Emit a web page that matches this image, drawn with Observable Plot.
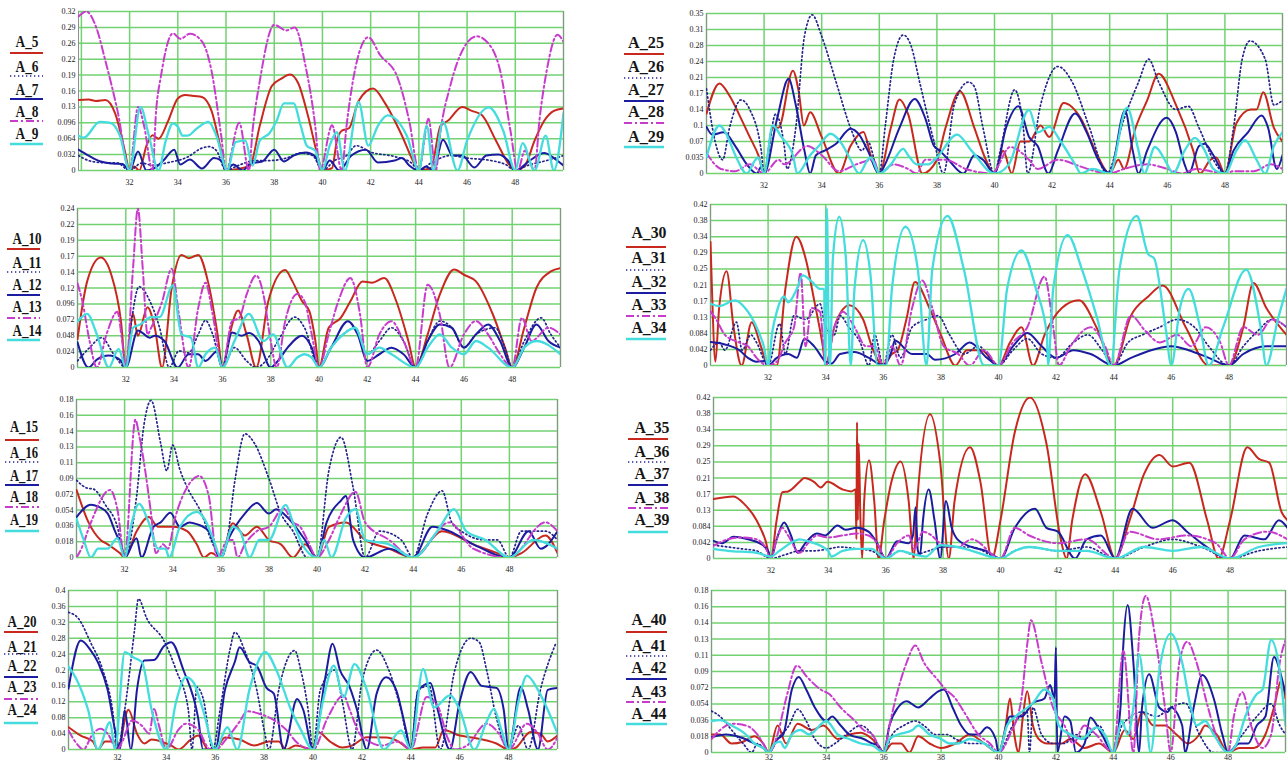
<!DOCTYPE html>
<html><head><meta charset="utf-8">
<script src="https://cdn.jsdelivr.net/npm/d3@7"></script>
<script src="https://cdn.jsdelivr.net/npm/@observablehq/plot@0.6"></script>
<style>
body{margin:0;background:#fff;}
#root{position:relative;width:1287px;height:765px;overflow:hidden;background:#fff;}
</style></head><body><div id="root"></div>
<script>
// ---------- tick labels ----------
const XT = [32,34,36,38,40,42,44,46,48];
const YL_1 = ["0","0.032","0.064","0.096","0.13","0.16","0.19","0.22","0.26","0.29","0.32"];
const YL_2 = ["0","0.024","0.048","0.072","0.096","0.12","0.14","0.17","0.19","0.22","0.24"];
const YL_3 = ["0","0.018","0.036","0.054","0.072","0.09","0.11","0.13","0.14","0.16","0.18"];
const YL_4 = ["0","0.04","0.08","0.12","0.16","0.2","0.24","0.28","0.32","0.36","0.4"];
const YL_5 = ["0","0.035","0.07","0.1","0.14","0.17","0.21","0.24","0.28","0.31","0.35"];
const YL_6 = ["0","0.042","0.084","0.13","0.17","0.21","0.25","0.29","0.34","0.38","0.42"];
const YL_7 = ["0","0.042","0.084","0.13","0.17","0.21","0.25","0.29","0.34","0.38","0.42"];
const YL_8 = ["0","0.018","0.036","0.054","0.072","0.09","0.11","0.13","0.14","0.16","0.18"];

// ---------- series values [x, y] ----------
const A_5 = [[29.88,0.142],[30.3,0.143],[30.6,0.14],[31.0,0.142],[31.4,0.115],[31.8,0.04],[32.0,0],[32.2,0.008],[32.4,0],[32.7,0.05],[32.95,0.071],[33.2,0.064],[33.6,0.1],[34.0,0.145],[34.3,0.152],[34.7,0.15],[35.0,0.148],[35.4,0.12],[35.8,0.04],[36.0,0],[36.5,0.003],[37.0,0.01],[37.4,0.09],[37.9,0.17],[38.3,0.185],[38.65,0.193],[39.0,0.175],[39.4,0.11],[39.8,0.03],[40.0,0],[40.4,0.005],[40.6,0.06],[40.8,0.08],[41.1,0.085],[41.5,0.14],[42.1,0.165],[42.6,0.135],[43.3,0.07],[43.8,0.015],[44.0,0],[44.5,0.005],[44.9,0.09],[45.2,0.1],[45.8,0.128],[46.2,0.12],[46.6,0.112],[47.2,0.06],[47.7,0.015],[48.0,0],[48.4,0.01],[48.8,0.06],[49.2,0.1],[49.6,0.12],[50,0.125]];
const A_6 = [[29.88,0.03],[30.3,0.02],[30.8,0.016],[31.5,0.015],[32,0],[32.5,0.015],[33.0,0.01],[33.5,0.015],[34.4,0.027],[35.0,0.045],[35.3,0.048],[35.6,0.04],[36,0],[36.5,0.01],[37.2,0.02],[37.8,0.02],[38.5,0.025],[39.1,0.035],[39.6,0.03],[40,0],[40.5,0.02],[41.0,0.03],[41.4,0.05],[42,0.037],[43,0.028],[43.7,0.015],[44,0],[44.5,0.015],[45.3,0.03],[46,0.025],[47,0.02],[47.6,0.012],[48,0],[48.5,0.01],[49.3,0.02],[50,0.03]];
const A_7 = [[29.88,0.042],[30.3,0.03],[30.8,0.018],[31.3,0.014],[31.7,0.013],[32,0],[32.35,0.038],[32.7,0],[33.0,0.004],[33.4,0.02],[33.85,0.042],[34.1,0.012],[34.5,0.022],[35.0,0.004],[35.5,0.025],[35.8,0.02],[36,0],[36.3,0.012],[36.7,0],[37.0,0.014],[37.5,0.018],[38.0,0.042],[38.4,0.018],[38.8,0.03],[39.3,0.036],[39.7,0.028],[40,0],[40.3,0.02],[40.7,0],[41.2,0.03],[41.8,0.042],[42.3,0.016],[43.0,0.02],[43.3,0.025],[43.6,0.01],[44,0],[44.3,0.008],[44.6,0],[45.0,0.062],[45.4,0.03],[45.8,0.03],[46.3,0.006],[46.8,0.03],[47.3,0.032],[47.7,0.02],[48,0],[48.6,0.02],[49.2,0.035],[49.6,0.025],[50,0.01]];
const A_8 = [[29.88,0.31],[30.2,0.32],[30.6,0.29],[31.0,0.22],[31.5,0.12],[32,0],[32.35,0.128],[32.6,0.09],[32.95,0],[33.1,0.12],[33.3,0.19],[33.8,0.276],[34.1,0.265],[34.5,0.275],[35.0,0.26],[35.4,0.2],[35.8,0.07],[36.0,0],[36.55,0.096],[36.95,0],[37.1,0.08],[37.4,0.18],[38.0,0.293],[38.5,0.282],[38.85,0.288],[39.3,0.21],[39.7,0.09],[39.9,0],[40.4,0.091],[40.8,0],[41.0,0.09],[41.3,0.19],[41.9,0.268],[42.4,0.232],[43.1,0.189],[43.6,0.1],[44,0],[44.4,0.104],[44.7,0],[44.9,0.08],[45.3,0.17],[45.9,0.25],[46.4,0.27],[46.8,0.26],[47.4,0.195],[47.8,0.08],[48.1,0],[48.4,0.04],[48.8,0],[49.0,0.1],[49.3,0.2],[49.75,0.273],[50,0.259]];
const A_9 = [[29.88,0.07],[30.1,0.066],[30.76,0.098],[31.2,0.096],[31.6,0.07],[32,0],[32.45,0.128],[32.8,0.07],[33.2,0],[33.5,0.06],[33.8,0.095],[34.0,0.088],[34.2,0.07],[34.4,0.07],[34.8,0.085],[35.27,0.098],[35.6,0.07],[36.05,0],[36.4,0.057],[36.8,0.06],[37.1,0.01],[37.4,0.06],[37.8,0.075],[38.1,0.1],[38.4,0.135],[38.8,0.135],[39.1,0.09],[39.35,0.05],[39.7,0.04],[40,0],[40.3,0.05],[40.6,0.077],[40.93,0],[41.5,0.138],[41.9,0.05],[42.3,0.09],[42.7,0.111],[43.5,0.07],[44,0],[44.33,0.09],[44.6,0],[45.0,0.098],[45.6,0],[46.0,0.06],[46.9,0.127],[47.5,0.08],[48,0],[48.3,0.055],[48.8,0],[49.26,0.07],[49.6,0],[50,0.115]];

const A_10 = [[30,0.043],[30.4,0.13],[30.96,0.166],[31.4,0.14],[31.8,0.07],[32,0],[32.3,0.081],[32.5,0.048],[32.9,0.091],[33.2,0.06],[33.5,0],[33.9,0.12],[34.3,0.17],[34.6,0.165],[35.0,0.17],[35.4,0.13],[35.8,0.05],[36,0],[36.3,0.05],[36.65,0.086],[37.0,0.05],[37.4,0],[37.9,0.1],[38.6,0.147],[38.9,0.13],[39.3,0.1],[39.6,0.085],[39.85,0.04],[40,0],[40.4,0.06],[40.9,0.075],[41.3,0.1],[41.8,0.13],[42.2,0.128],[42.7,0.135],[43.2,0.1],[43.7,0.04],[44,0],[44.5,0.05],[45.0,0.11],[45.6,0.148],[46.0,0.14],[46.5,0.13],[47.2,0.08],[47.7,0.03],[48,0],[48.5,0.06],[49.0,0.12],[49.6,0.145],[50,0.15]];
const A_11 = [[30,0.01],[30.5,0.03],[31.0,0.045],[31.5,0.02],[32,0],[32.2,0.06],[32.55,0.122],[33.0,0.1],[33.4,0.06],[33.8,0],[34.2,0.025],[34.6,0.022],[35.0,0.05],[35.3,0.071],[35.6,0.05],[36,0],[36.5,0.03],[37.0,0.01],[37.4,0],[37.8,0.01],[38.3,0.04],[39.0,0.076],[39.4,0.06],[40,0],[40.5,0.03],[41.0,0.05],[41.5,0.06],[42,0.02],[42.5,0.04],[43.0,0.06],[43.5,0.04],[44,0],[44.5,0.04],[45.0,0.07],[45.5,0.06],[46.0,0.03],[46.5,0.05],[47.3,0.06],[47.7,0.03],[48,0],[48.5,0.04],[49.2,0.075],[49.6,0.05],[50,0.03]];
const A_12 = [[30,0.038],[30.45,0],[30.8,0.012],[31.3,0.018],[31.8,0.01],[32,0],[32.5,0.056],[33.0,0.045],[33.2,0.048],[33.6,0.04],[34.15,0],[34.6,0.02],[35.0,0.02],[35.3,0.01],[35.8,0.025],[36,0],[36.4,0.053],[36.8,0.048],[37.1,0.052],[37.5,0.04],[38.0,0],[38.3,0.01],[38.7,0.03],[39.3,0.048],[39.7,0.03],[40,0],[40.5,0.03],[41.2,0.07],[41.6,0.05],[42,0.01],[42.5,0.02],[43.0,0.03],[43.5,0.02],[44,0],[44.5,0.04],[45.0,0.065],[45.5,0.06],[46.0,0.03],[46.5,0.05],[47.0,0.065],[47.5,0.04],[48,0],[48.5,0.03],[49.0,0.065],[49.5,0.04],[50,0.03]];
const A_13 = [[30,0.127],[30.2,0.1],[30.5,0.04],[30.8,0],[31.2,0.05],[31.65,0.084],[31.85,0.04],[32,0],[32.3,0.15],[32.5,0.24],[32.7,0.15],[32.9,0.05],[33.05,0.06],[33.5,0.099],[33.9,0.149],[34.2,0.08],[34.6,0],[35.0,0.09],[35.3,0.128],[35.6,0.08],[36,0],[36.4,0.07],[36.7,0.075],[37.0,0.11],[37.4,0.139],[37.7,0.11],[38.0,0.04],[38.25,0],[38.6,0.07],[39.1,0.111],[39.4,0.1],[39.7,0.05],[40,0],[40.4,0.05],[40.8,0.1],[41.3,0.135],[41.7,0.08],[42,0],[42.5,0.05],[43.0,0.07],[43.5,0.04],[44,0],[44.5,0.125],[45.0,0.08],[45.4,0],[46.0,0.05],[46.5,0.07],[47.0,0.05],[47.5,0.02],[48,0],[48.4,0.075],[48.8,0.04],[49.5,0.06],[50,0.05]];
const A_14 = [[30,0.069],[30.4,0.081],[30.8,0.05],[31.3,0],[31.7,0.028],[32,0],[32.3,0.06],[32.6,0.065],[33.05,0.076],[33.4,0.076],[33.95,0.124],[34.3,0.05],[34.7,0.045],[35.0,0],[35.3,0.02],[35.7,0.03],[36,0],[36.5,0.04],[37.1,0.081],[37.7,0.04],[38.1,0.05],[38.7,0],[39.1,0.015],[39.4,0.02],[39.7,0.015],[40,0],[40.5,0.03],[41.0,0.05],[41.5,0.06],[42,0.02],[42.5,0.03],[43,0.02],[44,0],[44.5,0.03],[45,0.05],[45.5,0.03],[46,0.02],[46.5,0.04],[47,0.03],[48,0],[48.5,0.03],[49,0.04],[50,0.02]];

const A_15 = [[30,0.077],[30.5,0.04],[31.0,0.02],[31.3,0.015],[31.8,0.005],[32,0],[32.5,0.03],[33.0,0.046],[33.4,0.035],[34.0,0.035],[34.6,0.03],[35.0,0.015],[35.3,0],[35.6,0.005],[36,0],[36.5,0.039],[37.0,0.025],[37.5,0.035],[38.0,0.02],[38.5,0.015],[39.0,0],[39.5,0.015],[40,0],[40.5,0.035],[41.2,0.04],[42,0.02],[43,0.01],[44,0],[45.2,0.03],[46.5,0.015],[47.5,0.005],[48,0],[48.5,0.005],[49.5,0.025],[50,0.005]];
const A_16 = [[30,0.088],[30.45,0.079],[30.7,0.078],[31.2,0.06],[31.7,0.035],[32,0],[32.5,0.07],[32.8,0.15],[33.1,0.179],[33.5,0.13],[33.75,0.099],[34.0,0.128],[34.3,0.1],[34.6,0.08],[35.2,0.05],[35.6,0.02],[36,0],[36.2,0.01],[36.6,0.09],[37.0,0.141],[37.4,0.13],[38,0.09],[38.5,0.05],[39.0,0.03],[39.6,0],[40,0],[40.5,0.1],[41.0,0.137],[41.5,0.08],[42,0],[42.6,0.03],[43.5,0.02],[44,0],[44.6,0.05],[45.2,0.076],[45.6,0.04],[46,0.03],[47,0.02],[47.5,0.02],[48,0],[48.5,0.03],[49.5,0.03],[50,0.02]];
const A_17 = [[30,0.046],[30.6,0.06],[30.9,0.058],[31.3,0.05],[31.6,0.03],[31.9,0.01],[32,0],[32.5,0.022],[32.7,0],[33.2,0.035],[33.5,0.04],[33.9,0.051],[34.3,0.035],[34.7,0.04],[35.0,0.038],[35.5,0.03],[36,0],[36.3,0.02],[37.0,0.05],[37.5,0.062],[38.0,0.05],[38.3,0.055],[38.8,0.045],[39.5,0.02],[40,0],[40.4,0.04],[41.0,0.065],[41.2,0.07],[41.5,0.02],[42,0],[43,0.01],[44,0],[44.8,0.035],[45.5,0.03],[46.5,0.015],[48,0],[48.8,0.03],[49.3,0.01],[50,0.03]];
const A_18 = [[30,0],[30.2,0.01],[30.6,0.04],[31.4,0.077],[31.7,0.055],[32,0],[32.45,0.157],[32.6,0.14],[33.1,0.05],[33.3,0.005],[33.6,0.015],[33.8,0.01],[34.1,0.045],[34.6,0.08],[35.1,0.093],[35.5,0.07],[35.85,0],[36.3,0.02],[36.5,0.02],[36.7,0],[37.0,0.015],[37.5,0.03],[38.0,0.035],[38.6,0.056],[39.0,0.04],[39.3,0.035],[39.6,0.02],[40,0],[40.5,0.02],[41.0,0.05],[41.6,0.075],[42,0.04],[43,0.02],[44,0],[45.5,0.04],[46.5,0.01],[48,0],[49.5,0.04],[50,0.03]];
const A_19 = [[30,0.044],[30.3,0.02],[30.6,0],[30.9,0.01],[31.3,0.01],[31.7,0.022],[32,0],[32.3,0.04],[32.6,0.061],[33.0,0.04],[33.4,0.01],[33.7,0.01],[33.85,0],[34.3,0.035],[35.0,0.052],[35.3,0.045],[35.7,0.02],[36,0],[36.5,0.035],[36.8,0.03],[37.2,0],[37.6,0.02],[38.0,0.02],[38.7,0.06],[39.0,0.04],[39.5,0.01],[40,0],[40.3,0.02],[40.6,0],[41.2,0.045],[41.6,0.055],[42,0.02],[43,0.015],[44,0],[45,0.03],[45.7,0.055],[46.2,0.03],[47,0.02],[48,0],[49,0.02],[50,0.01]];

const A_20 = [[30,0.056],[30.5,0.035],[31.0,0.02],[31.2,0],[31.5,0.02],[31.9,0.02],[32,0],[32.45,0.1],[32.8,0.04],[33.1,0.015],[33.4,0.025],[34.0,0.015],[34.2,0.01],[34.5,0],[35.0,0.025],[35.3,0.035],[35.5,0.02],[35.7,0],[36,0],[36.4,0.03],[37.0,0.025],[37.6,0.01],[38.2,0.02],[38.6,0.02],[38.9,0],[39.3,0.01],[40,0],[40.2,0.044],[40.7,0.02],[41.2,0.005],[41.6,0.01],[42.2,0.031],[43.0,0.03],[43.5,0.02],[44,0],[44.5,0.005],[45.0,0.005],[45.35,0.049],[46,0.035],[46.5,0.03],[47.5,0.015],[48,0],[48.3,0.005],[48.9,0.044],[49.3,0.04],[49.6,0.02],[50,0.035]];
const A_21 = [[30,0.345],[30.4,0.33],[30.9,0.27],[31.4,0.2],[31.8,0.1],[32,0],[32.3,0.1],[32.7,0.3],[32.86,0.379],[33.2,0.33],[33.9,0.274],[34.4,0.2],[34.9,0.1],[35.05,0],[35.25,0.157],[35.5,0.13],[35.9,0],[36.2,0.1],[36.6,0.25],[36.8,0.295],[37.2,0.25],[37.7,0.15],[38.0,0.05],[38.2,0],[38.6,0.15],[39.25,0.249],[39.5,0.2],[39.8,0.1],[40,0],[40.3,0.15],[40.9,0.2],[41.2,0.12],[41.6,0],[42.0,0.17],[42.6,0.25],[43.1,0.2],[43.6,0.1],[44,0],[44.3,0.15],[44.75,0.16],[45.2,0],[45.8,0.2],[46.45,0.28],[46.8,0.27],[47.1,0.2],[47.5,0.08],[48,0],[48.4,0.06],[48.8,0],[49.3,0.15],[49.95,0.27]];
const A_22 = [[30,0.153],[30.5,0.274],[30.9,0.25],[31.2,0.22],[31.6,0.15],[31.9,0.05],[32.1,0],[32.3,0.098],[32.55,0],[32.8,0.15],[33.1,0.224],[33.5,0.225],[33.9,0.26],[34.2,0.27],[34.7,0.2],[35.3,0.08],[35.5,0],[36.0,0],[36.4,0.15],[36.8,0.22],[37.0,0.257],[37.4,0.22],[37.7,0.21],[38.1,0.155],[38.4,0.14],[38.8,0],[39.35,0.127],[39.6,0.1],[40,0],[40.5,0.18],[40.8,0.266],[41.1,0.2],[41.5,0.157],[41.8,0.1],[42.2,0],[42.6,0.14],[43.0,0.182],[43.4,0.15],[43.8,0.05],[44,0],[44.3,0.148],[44.8,0.167],[45.1,0.1],[45.6,0],[46.0,0.12],[46.45,0.195],[46.9,0.16],[47.5,0.155],[47.8,0.1],[48,0],[48.5,0.157],[48.8,0.1],[49.2,0],[49.6,0.15],[50,0.155]];
const A_23 = [[30,0.048],[30.4,0.01],[30.6,0],[31.0,0.04],[31.3,0.052],[31.6,0.04],[32,0],[32.2,0.02],[32.6,0.073],[33.0,0.06],[33.3,0.04],[33.5,0.102],[33.7,0.06],[34,0],[34.5,0.05],[34.8,0.065],[35.3,0.05],[35.8,0],[36,0],[36.5,0.03],[37.0,0.07],[37.3,0.096],[37.8,0.09],[38.5,0.07],[38.9,0.05],[39.3,0.02],[39.5,0.01],[40,0],[40.6,0.08],[41.25,0.136],[41.5,0.1],[41.9,0.04],[42.3,0.02],[42.8,0.01],[43.5,0.02],[44,0],[44.65,0.132],[45.1,0.11],[45.5,0.03],[45.8,0],[46.3,0.01],[47.1,0.065],[47.6,0.04],[48,0],[48.75,0.065],[49.2,0.04],[49.6,0],[50,0.03]];
const A_24 = [[30,0.209],[30.3,0.18],[30.8,0.1],[31.2,0],[31.7,0.069],[31.9,0],[32.3,0.245],[32.7,0.23],[33.0,0.22],[33.4,0.1],[34.0,0],[34.4,0.12],[34.8,0.182],[35.1,0.17],[35.5,0.1],[36,0],[36.5,0.056],[36.9,0],[37.4,0.15],[38.05,0.245],[38.5,0.2],[39.1,0.1],[39.5,0.05],[40,0],[40.4,0.12],[40.85,0.211],[41.25,0.132],[41.7,0.215],[42.2,0.15],[42.9,0],[43.6,0.048],[44,0],[44.5,0.203],[44.95,0.106],[45.6,0.136],[46.0,0.1],[46.6,0],[47.1,0.07],[47.4,0.102],[47.7,0.05],[48,0],[48.4,0.12],[48.75,0.186],[49.2,0.15],[49.6,0.1],[50,0.04]];

const A_25 = [[30,0.131],[30.45,0.197],[30.8,0.17],[31.2,0.12],[31.5,0.08],[31.8,0.04],[32,0],[32.3,0.1],[32.5,0.1],[33.0,0.225],[33.2,0.18],[33.38,0.105],[33.6,0.134],[34.0,0.08],[34.6,0],[35.0,0.06],[35.45,0.091],[35.7,0.04],[36,0],[36.4,0.1],[36.7,0.162],[37.0,0.13],[37.5,0],[38,0.03],[38.3,0.1],[38.8,0.18],[39.3,0.1],[39.7,0.03],[40,0],[40.3,0.05],[40.6,0],[40.9,0.07],[41.2,0.07],[41.6,0.105],[41.9,0.08],[42.4,0.154],[43.0,0.12],[43.5,0.05],[44,0],[44.3,0.03],[44.5,0.01],[44.9,0.1],[45.3,0.16],[45.7,0.218],[46.3,0.15],[46.9,0.05],[47.13,0],[47.5,0.03],[47.7,0.035],[48,0],[48.4,0.11],[48.9,0.14],[49.1,0.14],[49.33,0.178],[49.7,0.1],[50,0.07]];
const A_26 = [[30,0.185],[30.3,0.07],[30.56,0.03],[30.8,0.1],[31.2,0.161],[31.5,0.14],[31.9,0.05],[32,0],[32.4,0.13],[32.7,0.06],[32.8,0.01],[33.1,0.1],[33.4,0.3],[33.67,0.347],[34.0,0.3],[34.5,0.2],[35.0,0.1],[35.4,0.05],[35.6,0.07],[36,0],[36.2,0.1],[36.5,0.25],[36.83,0.303],[37.1,0.28],[37.4,0.2],[37.9,0.07],[38.23,0],[38.6,0.15],[39.1,0.2],[39.3,0.19],[39.6,0.1],[40,0],[40.2,0.05],[40.7,0.183],[41.0,0.1],[41.15,0],[41.6,0.15],[42.2,0.234],[42.7,0.2],[43.3,0.1],[43.9,0],[44.5,0.12],[45.0,0.2],[45.35,0.25],[45.7,0.2],[46.3,0.14],[46.73,0.147],[47.1,0.1],[47.6,0.03],[48,0],[48.3,0.1],[48.6,0.25],[48.87,0.29],[49.4,0.25],[49.7,0.15],[50,0.16]];
const A_27 = [[30,0.102],[30.2,0.085],[30.6,0.09],[31.0,0.06],[31.4,0.02],[31.75,0],[31.9,0.015],[32,0],[32.45,0.12],[32.85,0.207],[33.1,0.15],[33.4,0.05],[33.6,0],[33.8,0.04],[34.1,0.05],[34.5,0.065],[35.0,0.098],[35.3,0.085],[35.6,0.05],[36,0],[36.2,0.02],[36.7,0.1],[37.23,0.163],[37.6,0.12],[37.9,0.06],[38.1,0.05],[38.4,0.03],[38.92,0],[39.3,0.04],[39.6,0.03],[40,0],[40.4,0.1],[40.83,0.147],[41.2,0.08],[41.5,0.06],[41.87,0],[42.2,0.05],[42.8,0.131],[43.2,0.09],[43.6,0.03],[44,0],[44.53,0.138],[44.8,0.05],[45.0,0],[45.3,0.05],[45.98,0.122],[46.3,0.09],[46.6,0.02],[46.75,0],[47.1,0.06],[47.3,0.065],[47.6,0.04],[48,0],[48.3,0.05],[48.8,0.09],[49.27,0.127],[49.5,0.1],[49.8,0.01],[50,0.04]];
const A_28 = [[30,0.045],[30.5,0.01],[31.0,0.005],[31.5,0.02],[32,0],[32.5,0.03],[32.7,0.02],[33.5,0.06],[34,0.04],[34.6,0.005],[35.2,0.02],[35.8,0.03],[36,0],[36.5,0.02],[37.0,0.01],[37.3,0],[37.6,0.03],[38.3,0.03],[39,0.01],[39.9,0],[40.55,0.058],[41.2,0.03],[41.5,0.01],[42.2,0.03],[43.0,0.015],[43.5,0.005],[44,0],[44.5,0.01],[45.3,0.02],[46.0,0.01],[46.5,0],[47.0,0.01],[47.5,0.005],[48,0],[48.3,0.005],[49,0.005],[49.6,0.02],[50,0.01]];
const A_29 = [[30,0.036],[30.45,0.105],[30.7,0.085],[31.0,0.04],[31.4,0],[31.7,0.03],[31.8,0.035],[32,0],[32.3,0.105],[32.6,0.08],[33.0,0.04],[33.15,0],[33.6,0.04],[33.9,0.06],[34.3,0.087],[34.7,0.065],[35.0,0.03],[35.3,0],[35.6,0.03],[35.7,0.035],[36,0],[36.4,0.02],[36.83,0.054],[37.0,0.04],[37.3,0.02],[37.7,0.02],[38,0.035],[38.7,0.085],[39.2,0.05],[40,0],[40.5,0.02],[41.2,0.139],[41.5,0.09],[41.9,0.102],[42.3,0.07],[42.8,0.02],[43.0,0],[43.4,0.01],[44,0],[44.6,0.144],[45,0.05],[45.2,0],[45.57,0.058],[46.0,0.02],[46.2,0],[46.6,0.05],[46.96,0.078],[47.3,0.05],[47.6,0.01],[48,0],[48.4,0.05],[48.7,0.073],[49.1,0.03],[49.4,0],[49.7,0.06],[50,0.09]];

const A_30 = [[30.0,0.322],[30.05,0.2],[30.17,0.01],[30.3,0.15],[30.56,0.246],[30.8,0.1],[31.08,0],[31.43,0.113],[31.75,0.05],[32,0],[32.3,0],[32.6,0.2],[32.98,0.336],[33.3,0.28],[33.6,0.17],[33.9,0.05],[34,0],[34.3,0.1],[34.82,0.157],[35.3,0.12],[35.6,0.05],[36,0],[36.3,0.03],[36.5,0.04],[36.8,0.12],[37.1,0.218],[37.6,0.15],[38.0,0.08],[38.5,0],[38.9,0.04],[39.4,0.04],[40,0],[40.4,0.06],[40.8,0.1],[41.2,0],[41.6,0.08],[42.2,0.15],[42.8,0.17],[43.4,0.1],[44,0],[44.6,0.13],[45.2,0.18],[45.7,0.209],[46.5,0.1],[47.3,0],[48,0],[48.5,0.1],[48.85,0.215],[49.3,0.15],[50,0.08]];
const A_31 = [[30,0.04],[30.3,0.06],[30.5,0.04],[30.9,0.113],[31.1,0.04],[31.4,0.08],[31.6,0.06],[32,0],[32.4,0.109],[32.6,0.03],[32.9,0.13],[33.3,0.12],[33.8,0.161],[34,0.1],[34.3,0.08],[34.5,0.13],[34.8,0.1],[35.2,0.06],[35.5,0],[35.7,0.08],[36,0],[36.3,0.08],[36.6,0.02],[37.0,0.1],[37.5,0.12],[37.9,0.13],[38.3,0.08],[38.8,0.03],[39.3,0.05],[40,0],[40.5,0.04],[41.0,0.07],[41.5,0.03],[42,0.02],[42.6,0.06],[43.1,0.08],[43.6,0.04],[44,0],[44.5,0.06],[45.0,0.08],[45.6,0.1],[46.2,0.12],[46.8,0.1],[47.3,0.05],[48,0],[48.5,0.05],[49.0,0.09],[49.5,0.12],[50,0.1]];
const A_32 = [[30,0.061],[30.5,0.055],[31,0.04],[31.3,0.02],[31.6,0.01],[31.9,0.012],[32,0],[32.3,0.02],[32.7,0.03],[33,0.02],[33.26,0.07],[33.6,0.05],[34,0.01],[34.2,0.005],[34.5,0.03],[35,0.035],[35.5,0.02],[36,0],[36.3,0.04],[36.4,0.065],[37,0.03],[37.5,0.03],[37.8,0.015],[38.5,0.03],[39,0.06],[39.6,0.02],[40,0],[40.5,0.05],[41,0.085],[41.5,0.05],[42,0.02],[42.6,0.04],[43.2,0.03],[44,0],[44.6,0.02],[45.3,0.04],[46,0.05],[46.6,0.04],[47.3,0.02],[48,0],[48.5,0.03],[49.3,0.05],[50,0.05]];
const A_33 = [[30,0.141],[30.2,0.12],[30.5,0.08],[31,0.06],[31.3,0.05],[31.6,0.02],[32,0],[32.3,0.01],[32.6,0.06],[32.9,0.1],[33.13,0.242],[33.3,0.05],[33.5,0.15],[33.8,0.14],[34,0],[34.3,0.1],[34.6,0.14],[35,0.1],[35.4,0.05],[35.7,0.05],[36,0],[36.3,0.05],[36.6,0],[37,0.15],[37.35,0.222],[37.7,0.15],[38.1,0.05],[38.6,0.03],[39,0],[39.5,0.04],[40,0],[40.5,0.06],[41,0.1],[41.6,0.232],[41.9,0.1],[42.1,0],[42.5,0.05],[43.2,0.1],[43.7,0.05],[44,0],[44.6,0.13],[45.1,0.09],[45.6,0.06],[46.2,0.08],[46.7,0.05],[47.2,0.1],[47.7,0.06],[48,0],[48.5,0.1],[49,0.08],[49.5,0.12],[50,0.1]];
const A_34 = [[30,0.161],[30.3,0.155],[30.85,0.17],[31.2,0.15],[31.6,0.1],[31.85,0.05],[32,0],[32.15,0.09],[32.3,0.14],[32.55,0.18],[32.7,0.165],[33.0,0.2],[33.2,0.235],[33.5,0.22],[33.8,0.2],[33.95,0.2],[33.97,0],[34.0,0.1],[34.04,0.41],[34.1,0.1],[34.15,0],[34.25,0.28],[34.47,0.388],[34.7,0.28],[34.87,0],[35.0,0.2],[35.3,0.327],[35.55,0.24],[35.8,0],[36.1,0],[36.3,0.2],[36.77,0.362],[37.2,0.25],[37.5,0],[37.7,0.25],[38.23,0.39],[38.8,0.25],[39.5,0],[40.0,0],[40.3,0.2],[40.8,0.3],[41.3,0.2],[41.68,0.08],[41.72,0],[41.9,0.2],[42.4,0.34],[42.9,0.25],[43.4,0.13],[43.9,0],[44.2,0.25],[44.8,0.39],[45.2,0.29],[45.4,0.28],[45.8,0.1],[46.0,0],[46.3,0.15],[46.6,0.2],[47.0,0.1],[47.3,0],[47.8,0.1],[48.6,0.25],[49.1,0.1],[49.3,0],[49.7,0.12],[50,0.2]];

const A_35 = [[30,0.155],[30.7,0.162],[31.1,0.14],[31.5,0.1],[31.8,0.05],[32,0],[32.2,0.1],[32.4,0.173],[32.6,0.175],[33.0,0.2],[33.16,0.21],[33.5,0.2],[33.74,0.185],[33.97,0.2],[34.5,0.18],[34.8,0.175],[34.95,0.18],[34.98,0.05],[35.0,0.356],[35.03,0.1],[35.06,0.3],[35.12,0.1],[35.18,0],[35.25,0.15],[35.42,0.256],[35.6,0.15],[35.75,0],[35.95,0.1],[36.2,0.2],[36.52,0.253],[36.8,0.15],[36.98,0],[37.1,0.15],[37.55,0.376],[37.9,0.25],[38.2,0],[38.4,0.15],[38.94,0.29],[39.3,0.2],[39.7,0],[40.0,0.1],[40.5,0.33],[41.03,0.42],[41.6,0.3],[42.1,0.05],[42.3,0],[42.5,0.1],[42.95,0.22],[43.5,0.12],[44,0],[44.5,0.1],[45.0,0.22],[45.54,0.27],[46.0,0.24],[46.58,0.25],[47.2,0.1],[47.6,0],[48.0,0.1],[48.6,0.29],[49.0,0.26],[49.36,0.25],[49.8,0.12],[50,0.1]];
const A_36 = [[30,0.035],[30.5,0.03],[31,0.025],[31.5,0.02],[32,0],[32.5,0.01],[33,0.02],[33.5,0.02],[34,0.025],[34.4,0.03],[35,0.025],[35.5,0.02],[36,0],[36.5,0.02],[37,0.01],[37.5,0.02],[38,0.03],[39,0.03],[40,0],[40.5,0.02],[41,0.03],[42,0.02],[43,0.03],[44,0],[45,0.03],[46,0.05],[47,0.03],[48,0],[49,0.02],[50,0.03]];
const A_37 = [[30,0.046],[30.3,0.04],[30.7,0.057],[31.2,0.05],[31.6,0.04],[31.9,0.02],[32,0],[32.2,0.05],[32.46,0.094],[32.7,0.06],[32.93,0.015],[33.2,0.04],[33.6,0.065],[33.9,0.06],[34.0,0.065],[34.32,0.086],[34.6,0.075],[35.0,0.08],[35.4,0.07],[35.7,0.04],[36,0],[36.4,0.045],[36.8,0.04],[36.95,0.06],[37.04,0.134],[37.12,0.02],[37.2,0.01],[37.3,0.1],[37.5,0.18],[37.7,0.1],[37.9,0],[38.1,0.15],[38.3,0.08],[38.5,0.05],[39,0.03],[39.5,0.02],[40,0],[40.5,0.08],[41.2,0.13],[41.6,0.08],[42,0.07],[42.6,0],[43,0.05],[43.5,0.06],[44,0],[44.6,0.13],[45.3,0.08],[46,0.1],[46.5,0.07],[47,0.04],[48,0],[48.5,0.06],[49.2,0.05],[49.7,0.1],[50,0.08]];
const A_38 = [[30,0.033],[30.5,0.05],[31,0.055],[31.5,0.05],[31.8,0.03],[32,0],[32.2,0.05],[32.4,0.08],[32.6,0.06],[33.0,0.015],[33.3,0.04],[33.6,0.06],[34,0.055],[34.5,0.06],[35,0.065],[35.4,0.06],[35.7,0.04],[36,0],[36.4,0.04],[36.8,0.06],[37.0,0.025],[37.3,0.07],[37.6,0.06],[37.9,0.04],[38.5,0.03],[39,0.05],[40,0],[40.5,0.08],[41,0.06],[42,0.04],[43,0.05],[44,0],[44.5,0.07],[45.5,0.05],[46.5,0.06],[47.5,0.04],[48,0],[48.5,0.05],[49.3,0.07],[50,0.05]];
const A_39 = [[30,0.025],[30.5,0.02],[31.5,0.015],[32,0.005],[32.3,0.02],[33.0,0.05],[33.3,0.045],[34,0.02],[34.1,0.005],[34.5,0.02],[35,0.025],[35.5,0.025],[36,0],[36.5,0.02],[37,0.01],[37.4,0.005],[37.9,0.035],[38.5,0.03],[39,0.02],[40,0],[40.5,0.02],[41,0.03],[42,0.02],[43,0.02],[44,0],[45,0.03],[46,0.02],[47,0.03],[48,0],[49,0.03],[50,0.04]];

const A_40 = [[30,0.02],[30.3,0.02],[30.7,0.01],[31.1,0.012],[31.5,0.018],[31.8,0.01],[32,0],[32.3,0.03],[32.6,0.01],[33.0,0.032],[33.5,0.025],[33.9,0.03],[34.4,0.015],[34.8,0.02],[35.2,0.022],[35.6,0.015],[36,0],[36.3,0.01],[36.6,0.01],[36.9,0],[37.2,0.018],[37.6,0.01],[38.0,0.005],[38.5,0.01],[39.0,0.02],[39.5,0.01],[40,0],[40.25,0.03],[40.4,0.06],[40.55,0.02],[40.7,0],[40.85,0.04],[41.0,0.068],[41.2,0.03],[41.4,0.015],[41.7,0.01],[42.2,0.01],[42.5,0.015],[43,0.005],[43.5,0.01],[44,0],[44.4,0.025],[44.7,0.015],[45.0,0.045],[45.4,0.03],[45.8,0.03],[46.2,0.02],[46.6,0.01],[47.0,0.02],[47.2,0.03],[47.6,0.02],[48,0],[48.4,0.005],[48.9,0.005],[49.3,0.02],[49.6,0.05],[49.85,0.08],[50,0.06]];
const A_41 = [[30,0.046],[30.3,0.04],[30.7,0.025],[31.1,0.01],[31.4,0],[31.6,0.01],[32,0],[32.3,0.015],[32.7,0.03],[33.0,0.048],[33.3,0.035],[33.6,0.015],[34.0,0.005],[34.3,0.01],[34.7,0.02],[35.2,0.03],[35.6,0.02],[36,0],[36.3,0.02],[36.7,0.03],[37.1,0.035],[37.4,0.03],[37.8,0.02],[38.2,0.02],[38.5,0.015],[39,0.01],[39.5,0.01],[40,0],[40.5,0.03],[41.0,0.045],[41.08,0],[41.2,0.05],[41.5,0.02],[41.9,0.01],[42.3,0.01],[42.7,0.02],[43,0.015],[43.5,0.03],[44,0],[44.3,0.03],[45.0,0.045],[45.5,0.04],[46.0,0.05],[46.5,0.055],[47.0,0.02],[47.5,0],[48,0],[48.5,0.02],[49.0,0.04],[49.5,0.054],[49.8,0.03],[50,0.02]];
const A_42 = [[30,0.017],[30.5,0.02],[31.0,0.017],[31.5,0.01],[31.8,0.005],[32,0],[32.3,0.015],[32.5,0.02],[32.8,0.07],[33.04,0.084],[33.3,0.07],[33.6,0.05],[34,0.035],[34.2,0.04],[34.5,0.03],[34.8,0.02],[35.3,0.015],[35.6,0.01],[35.8,0.008],[36,0],[36.2,0.03],[36.5,0.05],[36.8,0.057],[37.2,0.05],[37.6,0.06],[37.9,0.068],[38.1,0.07],[38.4,0.05],[38.7,0.03],[39.0,0.02],[39.3,0.02],[39.6,0.028],[39.9,0.015],[40,0],[40.4,0.04],[40.8,0.04],[41.2,0.055],[41.6,0.06],[41.8,0.075],[41.95,0.06],[42.0,0.117],[42.05,0],[42.3,0.04],[42.5,0.035],[42.7,0],[43,0.01],[43.2,0.039],[43.6,0.02],[44,0],[44.25,0.05],[44.35,0.12],[44.5,0.164],[44.7,0.1],[44.9,0],[45.0,0.05],[45.25,0.087],[45.6,0.05],[45.9,0.045],[46.0,0.05],[46.4,0.03],[46.5,0],[46.8,0.05],[47.1,0.086],[47.5,0.06],[47.8,0.02],[48,0],[48.4,0.01],[48.7,0.01],[49.0,0.03],[49.3,0.04],[49.6,0.106],[49.85,0.085],[50,0.065]];
const A_43 = [[30,0.015],[30.3,0.025],[30.7,0.032],[31.2,0.03],[31.6,0.02],[31.8,0.01],[32,0],[32.3,0.02],[32.6,0.06],[32.98,0.0965],[33.3,0.085],[33.8,0.07],[34.1,0.065],[34.5,0.05],[35,0.035],[35.3,0.025],[35.6,0.02],[36,0],[36.2,0.03],[36.5,0.07],[36.8,0.1],[37.1,0.119],[37.4,0.1],[37.9,0.08],[38.1,0.072],[38.5,0.06],[38.8,0.045],[39.3,0.02],[39.7,0.01],[40,0],[40.4,0.02],[40.8,0.06],[41.0,0.12],[41.13,0.147],[41.5,0.1],[41.9,0.05],[42.3,0.03],[42.6,0.01],[43,0.03],[43.4,0.02],[44,0],[44.35,0.113],[44.7,0],[44.9,0.13],[45.13,0.174],[45.5,0.12],[45.8,0.05],[46.0,0],[46.3,0.1],[46.58,0.123],[46.9,0.1],[47.3,0.05],[47.7,0.01],[48,0],[48.2,0.04],[48.5,0.067],[48.8,0.03],[49.2,0.005],[49.5,0.02],[49.8,0.1],[50,0.125]];
const A_44 = [[30,0.035],[30.3,0.036],[30.7,0.03],[31.2,0.02],[31.5,0.01],[31.8,0.005],[32,0],[32.2,0.01],[32.4,0.012],[32.55,0.005],[32.8,0.02],[33.1,0.025],[33.4,0.02],[34.0,0.035],[34.4,0.02],[34.8,0.015],[35.2,0.01],[35.6,0.008],[36,0],[36.2,0.015],[36.5,0.02],[37.0,0.025],[37.2,0.03],[37.6,0.02],[38,0.015],[38.3,0.01],[38.6,0.01],[39,0.015],[39.5,0.01],[40,0],[40.3,0.03],[40.6,0.04],[41.2,0.055],[41.6,0.07],[41.9,0.06],[42.1,0.03],[42.5,0.02],[42.9,0.015],[43.4,0.028],[43.7,0.02],[44,0],[44.3,0.035],[44.5,0.02],[44.7,0.05],[44.9,0.109],[45.1,0.06],[45.3,0],[45.6,0.09],[46.0,0.132],[46.4,0.1],[46.7,0.05],[46.9,0.03],[47.2,0.035],[47.5,0.02],[48,0],[48.3,0.01],[48.6,0.04],[49.0,0.065],[49.2,0.07],[49.5,0.125],[49.8,0.09],[50,0.03]];

// ---------- styles & layout ----------
const STY = [
  {c:"#c8281e", w:2,   d:null},
  {c:"#24248c", w:1.7, d:"1.3,2.7"},
  {c:"#1c1ca0", w:2,   d:null},
  {c:"#c83ccc", w:2,   d:"8,3,2,3"},
  {c:"#44dcdc", w:2.3, d:null}
];
const GREEN = "#72d272";
const panels = [
  {names:["A_5","A_6","A_7","A_8","A_9"], series:[A_5,A_6,A_7,A_8,A_9], ymax:0.32, ylabels:YL_1, xmin:29.88, box:[78,11,563,170], xpad:9,
   lg:{cx:27, tl:23, base:[47,72,95,117,139], ly:[53,76,99,121,144], lx:[10,43]}},
  {names:["A_10","A_11","A_12","A_13","A_14"], series:[A_10,A_11,A_12,A_13,A_14], ymax:0.24, ylabels:YL_2, xmin:30, box:[77,208,560,367], xpad:9,
   lg:{cx:27, tl:29, base:[244,268,290,312,336], ly:[249,272,295,318,340], lx:[7,40]}},
  {names:["A_15","A_16","A_17","A_18","A_19"], series:[A_15,A_16,A_17,A_18,A_19], ymax:0.18, ylabels:YL_3, xmin:30, box:[76,399,557,557], xpad:9,
   lg:{cx:24, tl:28, base:[432,458,481,502,525], ly:[440,462,485,507,531], lx:[5,39]}},
  {names:["A_20","A_21","A_22","A_23","A_24"], series:[A_20,A_21,A_22,A_23,A_24], ymax:0.4, ylabels:YL_4, xmin:30, box:[68,590,557,749], xpad:5,
   lg:{cx:22, tl:29, base:[627,652,671,692,715], ly:[632,654,677,699,723], lx:[4,38]}},
  {names:["A_25","A_26","A_27","A_28","A_29"], series:[A_25,A_26,A_27,A_28,A_29], ymax:0.35, ylabels:YL_5, xmin:30, box:[706,13,1282,173], xpad:9,
   lg:{cx:646, tl:36, base:[48,72,95,117,142], ly:[54,78,101,123,147], lx:[624,664]}},
  {names:["A_30","A_31","A_32","A_33","A_34"], series:[A_30,A_31,A_32,A_33,A_34], ymax:0.42, ylabels:YL_6, xmin:30, box:[710,204,1286,365], xpad:9,
   lg:{cx:649, tl:35, base:[238,263,287,310,333], ly:[247,270,293,316,339], lx:[626,666]}},
  {names:["A_35","A_36","A_37","A_38","A_39"], series:[A_35,A_36,A_37,A_38,A_39], ymax:0.42, ylabels:YL_7, xmin:30, box:[713,397,1287,558], xpad:9,
   lg:{cx:652, tl:35, base:[433,457,479,503,525], ly:[439,462,485,508,532], lx:[628,668]}},
  {names:["A_40","A_41","A_42","A_43","A_44"], series:[A_40,A_41,A_42,A_43,A_44], ymax:0.18, ylabels:YL_8, xmin:30, box:[711,590,1285,752], xpad:2,
   lg:{cx:649, tl:35, base:[625,651,673,697,719], ly:[632,656,679,702,724], lx:[626,667]}}
];

const root = document.getElementById("root");
const mL = 44, mR = 8, mT = 8, mB = 22;
for (const p of panels) {
  const [x0,y0,x1,y1] = p.box;
  const step = p.ymax / 10;
  const yt = p.ylabels.map((_, i) => i * step);
  const lab = new Map(yt.map((v, i) => [v, p.ylabels[i]]));
  const xg = d3.range(30, 50.001, 2).filter(v => v >= p.xmin);
  const marks = [
    Plot.gridY(yt, {stroke: GREEN, strokeOpacity: 1, strokeWidth: 1.5}),
    Plot.gridX(xg, {stroke: GREEN, strokeOpacity: 1, strokeWidth: 1.5}),
    Plot.ruleX([p.xmin, 50], {stroke: "#8f8f8f", strokeWidth: 1})
  ];
  p.series.forEach((s, k) => marks.push(Plot.line(s, {
    x: d => d[0], y: d => d[1], stroke: STY[k].c, strokeWidth: STY[k].w,
    strokeDasharray: STY[k].d, curve: "monotone-x", clip: true
  })));
  marks.push(Plot.axisX(XT, {tickSize: 0, tickPadding: p.xpad, fontSize: 8, tickFormat: d => String(d), label: null}));
  marks.push(Plot.axisY(yt, {tickSize: 0, tickPadding: 3, fontSize: 8, tickFormat: d => lab.get(d), label: null}));
  const svg = Plot.plot({
    width: (x1 - x0) + mL + mR, height: (y1 - y0) + mT + mB,
    marginLeft: mL, marginRight: mR, marginTop: mT, marginBottom: mB,
    x: {domain: [p.xmin, 50]}, y: {domain: [0, p.ymax]},
    style: {fontFamily: "'Liberation Serif', serif", fontSize: "8px", color: "#222", background: "transparent"},
    marks
  });
  svg.style.position = "absolute";
  svg.style.left = (x0 - mL) + "px";
  svg.style.top = (y0 - mT) + "px";
  root.appendChild(svg);
}

// ---------- legends ----------
const ns = "http://www.w3.org/2000/svg";
const lg = document.createElementNS(ns, "svg");
lg.setAttribute("width", 1287); lg.setAttribute("height", 765);
lg.style.position = "absolute"; lg.style.left = "0"; lg.style.top = "0";
for (const p of panels) {
  p.names.forEach((nm, k) => {
    const t = document.createElementNS(ns, "text");
    t.setAttribute("x", p.lg.cx); t.setAttribute("y", p.lg.base[k]);
    t.setAttribute("text-anchor", "middle");
    t.setAttribute("font-family", "'Liberation Serif', 'Times New Roman', serif");
    t.setAttribute("font-weight", "bold"); t.setAttribute("font-size", "17");
    t.setAttribute("fill", "#161616");
    t.setAttribute("textLength", p.lg.tl); t.setAttribute("lengthAdjust", "spacingAndGlyphs");
    t.textContent = nm;
    lg.appendChild(t);
    const l = document.createElementNS(ns, "line");
    l.setAttribute("x1", p.lg.lx[0]); l.setAttribute("x2", p.lg.lx[1]);
    l.setAttribute("y1", p.lg.ly[k]); l.setAttribute("y2", p.lg.ly[k]);
    l.setAttribute("stroke", STY[k].c); l.setAttribute("stroke-width", STY[k].w);
    if (STY[k].d) l.setAttribute("stroke-dasharray", STY[k].d);
    lg.appendChild(l);
  });
}
root.appendChild(lg);
</script></body></html>
